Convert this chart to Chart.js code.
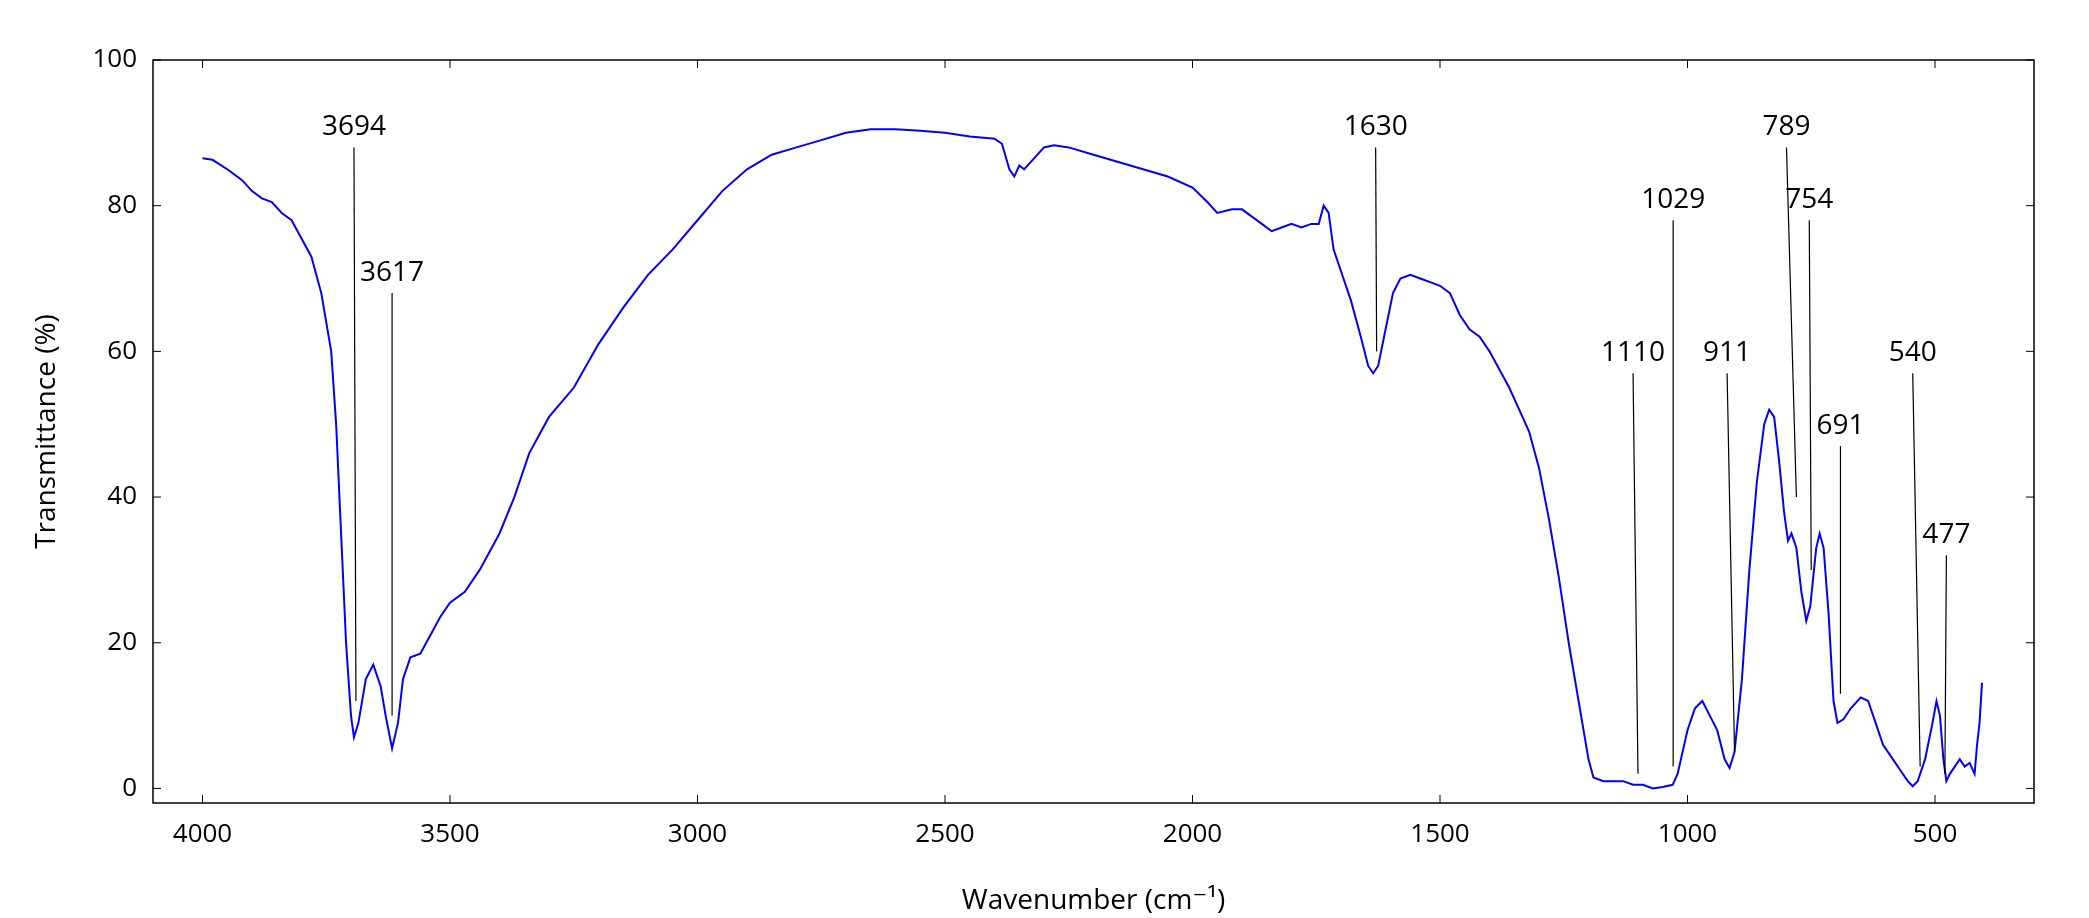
<!DOCTYPE html>
<html>
<head>
<meta charset="utf-8">
<script src="https://cdn.jsdelivr.net/npm/chart.js@4"></script>
<style>
  html, body { margin: 0; padding: 0; background: #fff; }
  #wrap { width: 2089px; height: 918px; }
</style>
</head>
<body>
<div id="wrap"><canvas id="ftir" width="2089" height="918"></canvas></div>
<script>
// spectrum: wavenumber (cm-1) and transmittance (%)
const wavenumbers = [4000,3980,3950,3920,3900,3880,3860,3840,3820,3800,3780,3760,3740,3730,3720,3710,3700,3694,3685,3670,3655,3640,3630,3617,3605,3595,3580,3560,3540,3520,3500,3470,3440,3400,3370,3340,3300,3250,3200,3150,3100,3050,3000,2950,2900,2850,2800,2750,2700,2650,2600,2550,2500,2450,2400,2385,2370,2360,2350,2340,2320,2300,2280,2250,2200,2150,2100,2050,2000,1970,1950,1920,1900,1880,1860,1840,1820,1800,1780,1760,1745,1735,1725,1715,1700,1680,1660,1645,1635,1625,1610,1595,1580,1560,1540,1520,1500,1480,1460,1440,1420,1400,1380,1360,1340,1320,1300,1280,1260,1240,1220,1200,1190,1170,1150,1130,1110,1090,1070,1050,1030,1020,1000,985,970,955,940,925,915,905,890,875,860,845,835,825,815,805,797,790,780,770,760,752,740,733,725,715,705,697,685,670,650,635,620,605,590,570,555,545,535,520,505,497,490,483,477,470,460,450,440,430,420,415,410,405];
const transmittance = [86.5,86.3,85,83.5,82,81,80.5,79,78,75.5,73,68,60,50,35,20,10,7,9,15,17,14,10,5.5,9,15,18,18.5,21,23.5,25.5,27,30,35,40,46,51,55,61,66,70.5,74,78,82,85,87,88,89,90,90.5,90.5,90.3,90,89.5,89.2,88.5,85,84,85.5,85,86.5,88,88.3,88,87,86,85,84,82.5,80.5,79,79.5,79.5,78.5,77.5,76.5,77,77.5,77,77.5,77.5,80,79,74,71,67,62,58,57,58,63,68,70,70.5,70,69.5,69,68,65,63,62,60,57.5,55,52,49,44,37,29,20,12,4,1.5,1,1,1,0.5,0.5,0,0.2,0.5,2,8,11,12,10,8,4,2.8,5,15,30,42,50,52,51,45,38,34,35,33,27,23,25,33,35,33,24,12,9,9.5,11,12.5,12,9,6,4.5,2.5,1,0.3,1,4,9,12,10,4,1,2,3,4,3,3.5,2,6,9,14.5];

// peak marker lines: label, x at top, x at bottom, y top, y bottom
const peakLabels = ["3694","3617","1630","1110","1029","911","789","754","691","540","477"];
const peakTopX   = [3694,3617,1630,1110,1029,920,800,754,691,545,477];
const peakBotX   = [3690,3617,1628,1100,1029,905,780,750,691,530,480];
const peakTopY   = [88,68,88,57,78,57,88,78,47,57,32];
const peakBotY   = [12,10,60,2,3,5,40,30,13,3,2];

const xTicks = [4000,3500,3000,2500,2000,1500,1000,500];
const yTicks = [0,20,40,60,80,100];

const FONT = "'Open Sans', 'DejaVu Sans', sans-serif";

const framePlugin = {
  id: "frame",
  afterDatasetsDraw(chart) {
    const { ctx, chartArea: a, scales: { x, y } } = chart;
    ctx.save();
    ctx.strokeStyle = "#000";
    ctx.lineWidth = 1.5;
    ctx.strokeRect(a.left, a.top, a.right - a.left, a.bottom - a.top);
    ctx.lineWidth = 1;
    const t = 8;
    xTicks.forEach(v => {
      const px = x.getPixelForValue(v);
      ctx.beginPath();
      ctx.moveTo(px, a.bottom); ctx.lineTo(px, a.bottom - t);
      ctx.moveTo(px, a.top); ctx.lineTo(px, a.top + t);
      ctx.stroke();
    });
    yTicks.forEach(v => {
      const py = y.getPixelForValue(v);
      ctx.beginPath();
      ctx.moveTo(a.left, py); ctx.lineTo(a.left + t, py);
      ctx.moveTo(a.right, py); ctx.lineTo(a.right - t, py);
      ctx.stroke();
    });
    // peak annotations
    ctx.font = "28px " + FONT;
    ctx.fillStyle = "#000";
    ctx.textAlign = "center";
    ctx.textBaseline = "bottom";
    ctx.lineWidth = 1.2;
    peakLabels.forEach((lab, i) => {
      const x1 = x.getPixelForValue(peakTopX[i]), y1 = y.getPixelForValue(peakTopY[i]);
      const x2 = x.getPixelForValue(peakBotX[i]), y2 = y.getPixelForValue(peakBotY[i]);
      ctx.beginPath();
      ctx.moveTo(x1, y1); ctx.lineTo(x2, y2);
      ctx.stroke();
      ctx.fillText(lab, x1, y1 - 6);
    });
    ctx.restore();
  }
};

new Chart(document.getElementById("ftir"), {
  type: "line",
  data: {
    datasets: [{
      data: wavenumbers.map((w, i) => ({ x: w, y: transmittance[i] })),
      borderColor: "#0000ff",
      borderWidth: 2,
      pointRadius: 0,
      tension: 0
    }]
  },
  options: {
    responsive: false,
    devicePixelRatio: 1,
    animation: false,
    layout: { padding: { top: 60, right: 55, left: 30, bottom: 0 } },
    plugins: { legend: { display: false }, tooltip: { enabled: false } },
    scales: {
      x: {
        type: "linear",
        reverse: true,
        min: 300,
        max: 4100,
        afterBuildTicks: s => { s.ticks = xTicks.map(v => ({ value: v })); },
        afterFit: s => { s.height = 115; },
        grid: { display: false },
        border: { display: false },
        ticks: { color: "#000", font: { family: FONT, size: 26 }, padding: 8, maxRotation: 0, callback: v => String(v) },
        title: { display: true, text: "Wavenumber (cm\u207B\u00B9)", color: "#000", font: { family: FONT, size: 28 }, padding: { top: 0, bottom: 0 } }
      },
      y: {
        min: -2,
        max: 100,
        afterBuildTicks: s => { s.ticks = yTicks.map(v => ({ value: v })); },
        afterFit: s => { s.width = 123; },
        grid: { display: false },
        border: { display: false },
        ticks: { color: "#000", font: { family: FONT, size: 26 }, padding: 8, callback: v => String(v) },
        title: { display: true, text: "Transmittance (%)", color: "#000", font: { family: FONT, size: 28 }, padding: 0 }
      }
    }
  },
  plugins: [framePlugin]
});
</script>
</body>
</html>
